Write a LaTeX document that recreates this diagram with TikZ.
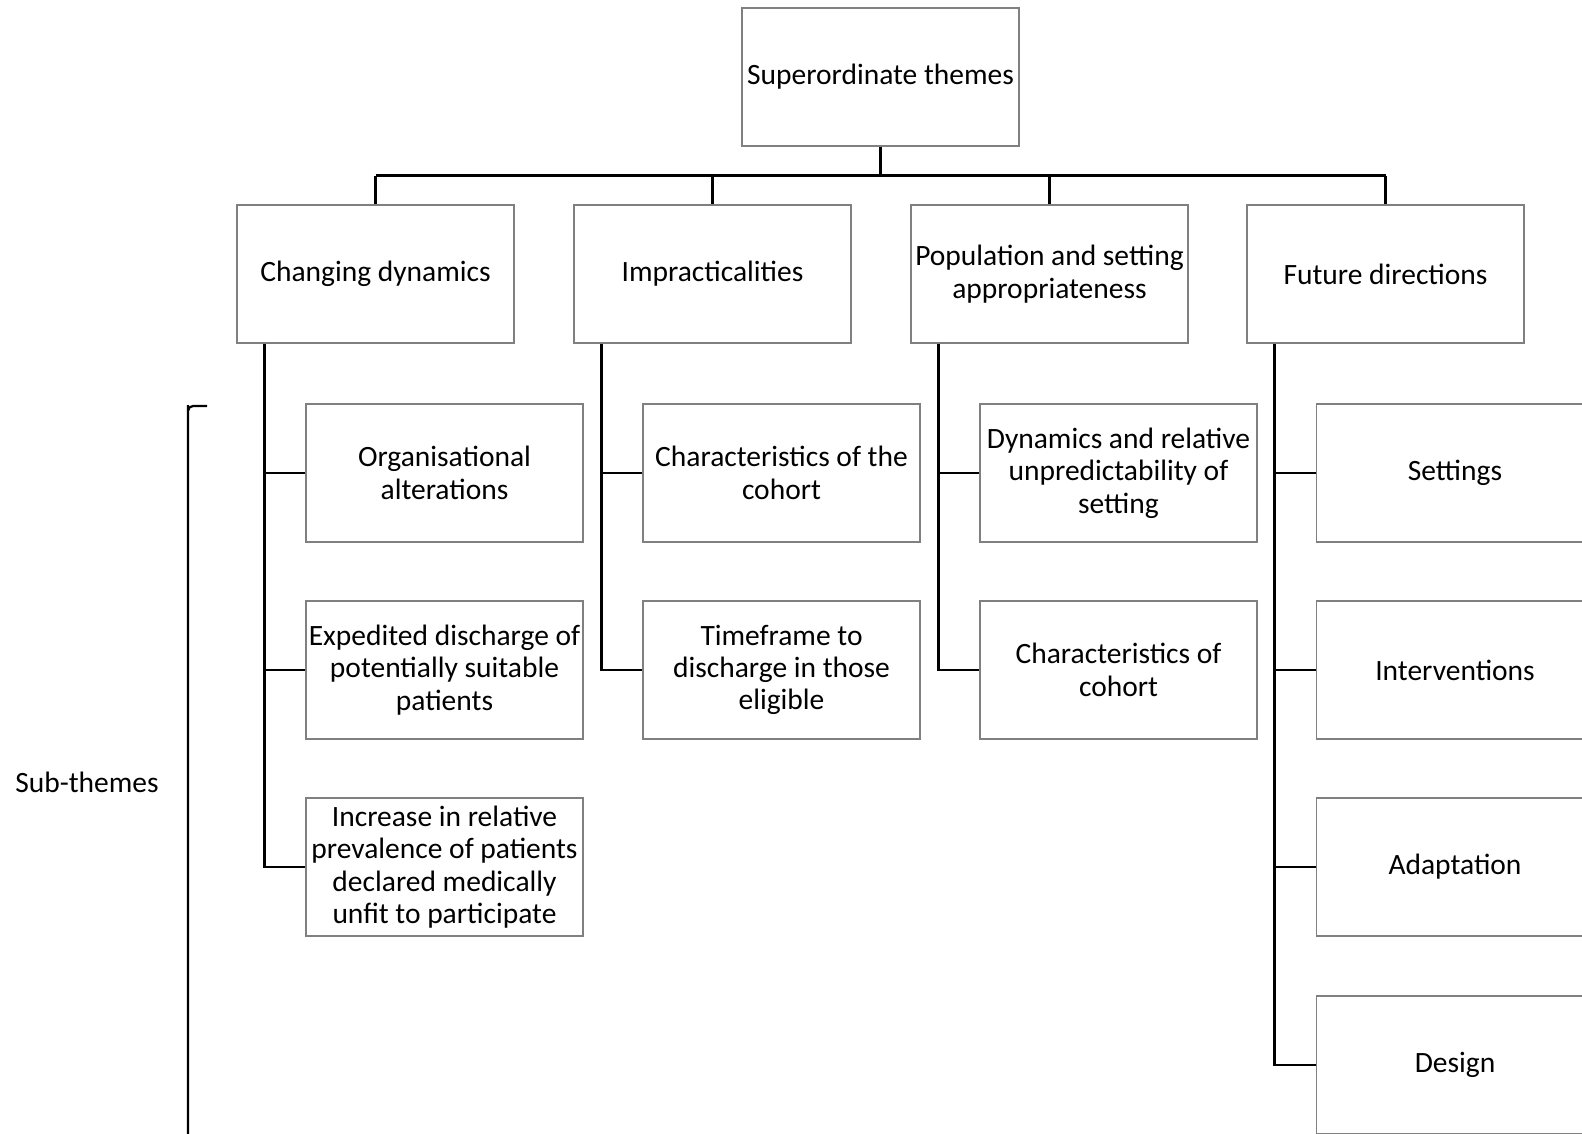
\documentclass[tikz,border=0pt]{standalone}
\usepackage{fontspec}
\setmainfont{Carlito}
\usetikzlibrary{positioning}

\begin{document}
\begin{tikzpicture}[x=1pt, y=-1pt,
        themebox/.style={draw=black!50, line width=1.3pt, minimum width=277pt, minimum height=138pt,
                inner sep=1pt, align=center, font=\fontsize{29.5}{32.3}\selectfont},
        link/.style={draw=black, line width=2.4pt}]
        \useasboundingbox (0, 0) rectangle (1582, 1134);
        \clip (0, 0) rectangle (1582, 1134);
        % superordinate theme
        \node[themebox] (top) at (880.5, 77) {Superordinate themes};
        % main themes
        \node[themebox] (dyn) at (375.5, 274) {Changing dynamics};
        \node[themebox] (imp) at (712.5, 274) {Impracticalities};
        \node[themebox] (pop) at (1049.5, 274) {Population and setting\\appropriateness};
        \node[themebox] (fut) at (1385.5, 274) {Future directions};
        % sub-themes
        \node[themebox] (dyna) at (444.5, 473) {Organisational\\alterations};
        \node[themebox] (dynb) at (444.5, 670) {Expedited discharge of\\potentially suitable\\patients};
        \node[themebox] (dync) at (444.5, 867) {Increase in relative\\prevalence of patients\\declared medically\\unfit to participate};
        \node[themebox] (impa) at (781.5, 473) {Characteristics of the\\cohort};
        \node[themebox] (impb) at (781.5, 670) {Timeframe to\\discharge in those\\eligible};
        \node[themebox] (popa) at (1118.5, 473) {Dynamics and relative\\unpredictability of\\setting};
        \node[themebox] (popb) at (1118.5, 670) {Characteristics of\\cohort};
        \node[themebox] (futa) at (1455, 473) {Settings};
        \node[themebox] (futb) at (1455, 670) {Interventions};
        \node[themebox] (futc) at (1455, 867) {Adaptation};
        \node[themebox] (futd) at (1455, 1065) {Design};
        % top bus
        \coordinate (bus) at (0, 175.6);
        \draw[link] (top.south) -- (top.south |- bus);
        \draw[link] (dyn.north |- bus) -- (fut.north |- bus);
        \foreach \m in {dyn, imp, pop, fut}
                \draw[link] (\m.north |- bus) -- (\m.north);
        % branches to sub-themes
        \foreach \m/\last in {dyn/dync, imp/impb, pop/popb, fut/futd} {
                \coordinate (\m trunk) at ([xshift=28pt]\m.south west);
                \draw[link] (\m trunk) |- (\last.west);
        }
        \foreach \m/\s in {dyn/dyna, dyn/dynb, imp/impa, pop/popa, fut/futa, fut/futb, fut/futc}
                \draw[link] (\m trunk |- \s.west) -- (\s.west);
        % bracket and label
        \coordinate (brtop) at (207, 406);
        \coordinate (brbot) at (188, 1134);
        \draw[link, line width=2.2pt, rounded corners=5pt] (brtop) -- (brbot |- brtop) -- ++(0, 4) -- (brbot);
        \node[font=\fontsize{29.5}{32.3}\selectfont] (sub) at (87, 782) {Sub-themes};
\end{tikzpicture}
\end{document}
